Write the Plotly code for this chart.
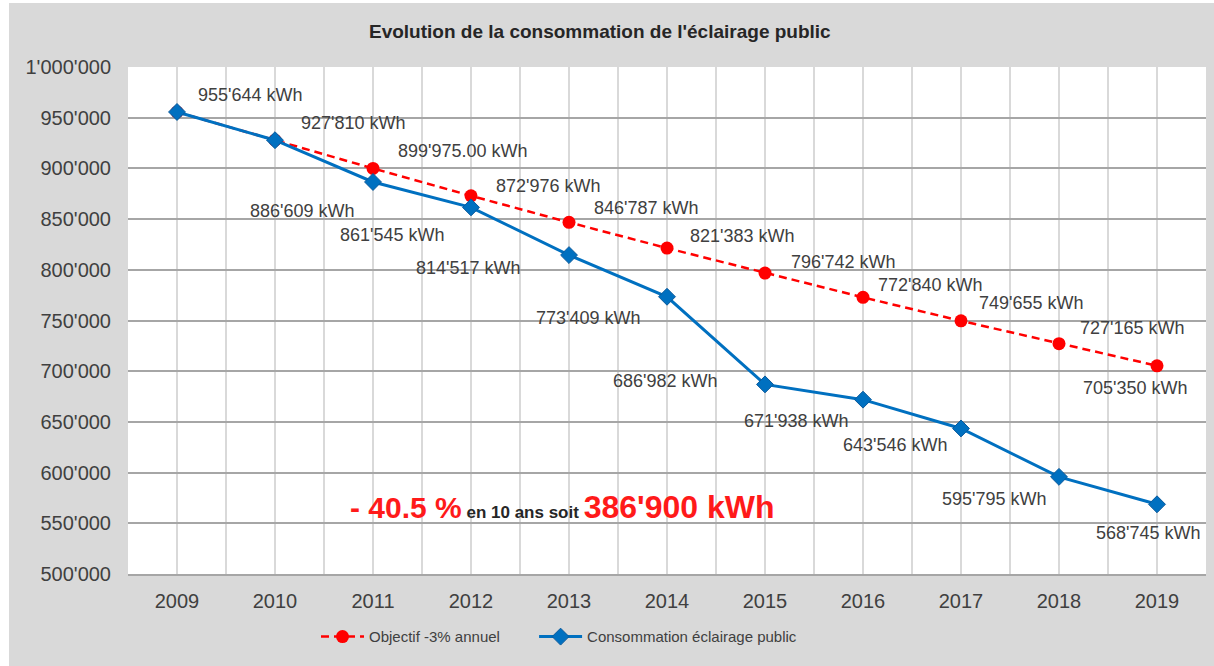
import plotly.graph_objects as go

years = [2009, 2010, 2011, 2012, 2013, 2014, 2015, 2016, 2017, 2018, 2019]
objectif = [955644, 927810, 899975, 872976, 846787, 821383, 796742, 772840, 749655, 727165, 705350]
consommation = [955644, 927810, 886609, 861545, 814517, 773409, 686982, 671938, 643546, 595795, 568745]

title_text = "Evolution de la consommation de l'éclairage public"
name_obj = "Objectif -3% annuel"
name_cons = "Consommation éclairage public"

# label placement (pixel offsets from the marker)
obj_dx = [73, 78, 90, 77, 77, 75, 78, 67, 70, 73, -22]
obj_dy = [17, 17, 17, 10, 14, 12, 11, 12, 18, 16, -22]
cons_show = [False, False, True, True, True, True, True, True, True, True, True]
cons_dx = [0, 0, -71, -79, -101, -79, -100, -67, -66, -65, -9]
cons_dy = [0, 0, -29, -28, -13, -21, 3, -21, -17, -22, -29]
obj_decimals = {2011: ".00"}


def fmt(v, suffix=""):
    return f"{v:,}".replace(",", "'") + suffix + " kWh"


RED = "#ff0000"
BLUE = "#0070c0"
TXT = "#404040"
FONT = "Liberation Sans, Arial, sans-serif"

fig = go.Figure()
fig.add_trace(go.Scatter(
    x=years, y=objectif, name=name_obj + "\u00a0" * 7, mode="lines+markers",
    line=dict(color=RED, width=2.5, dash="8px,5px"),
    marker=dict(symbol="circle", size=13, color=RED),
))
fig.add_trace(go.Scatter(
    x=years, y=consommation, name=name_cons, mode="lines+markers",
    line=dict(color=BLUE, width=3),
    marker=dict(symbol="diamond", size=13, color=BLUE, line=dict(color="#0a5a9c", width=1)),
))

annotations = []
for i, (yr, v) in enumerate(zip(years, objectif)):
    annotations.append(dict(
        x=yr, y=v, xref="x", yref="y", text=fmt(v, obj_decimals.get(yr, "")),
        showarrow=False, xanchor="center", yanchor="middle",
        xshift=obj_dx[i], yshift=obj_dy[i],
        font=dict(family=FONT, size=18, color=TXT),
    ))
for i, (yr, v) in enumerate(zip(years, consommation)):
    if not cons_show[i]:
        continue
    annotations.append(dict(
        x=yr, y=v, xref="x", yref="y", text=fmt(v),
        showarrow=False, xanchor="center", yanchor="middle",
        xshift=cons_dx[i], yshift=cons_dy[i],
        font=dict(family=FONT, size=18, color=TXT),
    ))

annotations.append(dict(
    x=(562 - 128) / 1078, y=(574 - 507) / 507, xref="paper", yref="paper", showarrow=False,
    xanchor="center", yanchor="middle",
    text=("<b><span style='color:#ff1a1a;font-size:30px'>- 40.5 %</span>"
          "<span style='color:#262626;font-size:17px'> en 10 ans soit </span>"
          "<span style='color:#ff1a1a;font-size:32px'>386'900 kWh</span></b>"),
    font=dict(family=FONT, size=17, color="#262626"),
))

annotations.append(dict(
    x=(600 - 128) / 1078, y=(574 - 31) / 507, xref="paper", yref="paper",
    showarrow=False, xanchor="center", yanchor="middle",
    text="<b>" + title_text + "</b>",
    font=dict(family=FONT, size=19, color="#262626"),
))

fig.update_layout(
    width=1214, height=666,
    margin=dict(l=128, r=8, t=67, b=92),
    paper_bgcolor="#d9d9d9",
    plot_bgcolor="#ffffff",
    separators=".'",
    annotations=annotations,
    showlegend=True,
    legend=dict(
        orientation="h", x=(559 - 128) / 1078, xanchor="center", y=-0.124, yanchor="middle",
        font=dict(family=FONT, size=15, color=TXT), bgcolor="rgba(0,0,0,0)",
        itemwidth=43,
    ),
    shapes=[
        dict(type="rect", xref="paper", yref="paper", layer="above",
             x0=-128 / 1078, x1=(9 - 128) / 1078, y0=-92 / 507, y1=574 / 507 + 0.01,
             fillcolor="#ffffff", line=dict(width=0)),
        dict(type="rect", xref="paper", yref="paper", layer="above",
             x0=-128 / 1078, x1=1086 / 1078 + 0.01, y0=(574 - 3) / 507, y1=574 / 507 + 0.01,
             fillcolor="#ffffff", line=dict(width=0)),
    ],
)

fig.update_xaxes(
    range=[2008.5, 2019.5], tickvals=years, ticktext=[str(y) for y in years],
    showgrid=True, gridcolor="#d9d9d9", gridwidth=1.5,
    minor=dict(dtick=0.5, tick0=2008.5, showgrid=True, gridcolor="#d9d9d9", gridwidth=1.5),
    showline=True, linecolor="#a6a6a6", linewidth=2, zeroline=False,
    tickfont=dict(family=FONT, size=20, color=TXT), ticks="", ticklabelstandoff=8,
)
fig.update_yaxes(
    range=[500000, 1000000], dtick=50000, tick0=500000, tickformat=",d",
    showgrid=True, gridcolor="#a6a6a6", gridwidth=2, zeroline=False,
    tickfont=dict(family=FONT, size=20, color=TXT), ticks="", ticklabelstandoff=16,
)

fig.write_html("out.html", config={"displayModeBar": False},
               post_script="document.body.style.margin='0';")
